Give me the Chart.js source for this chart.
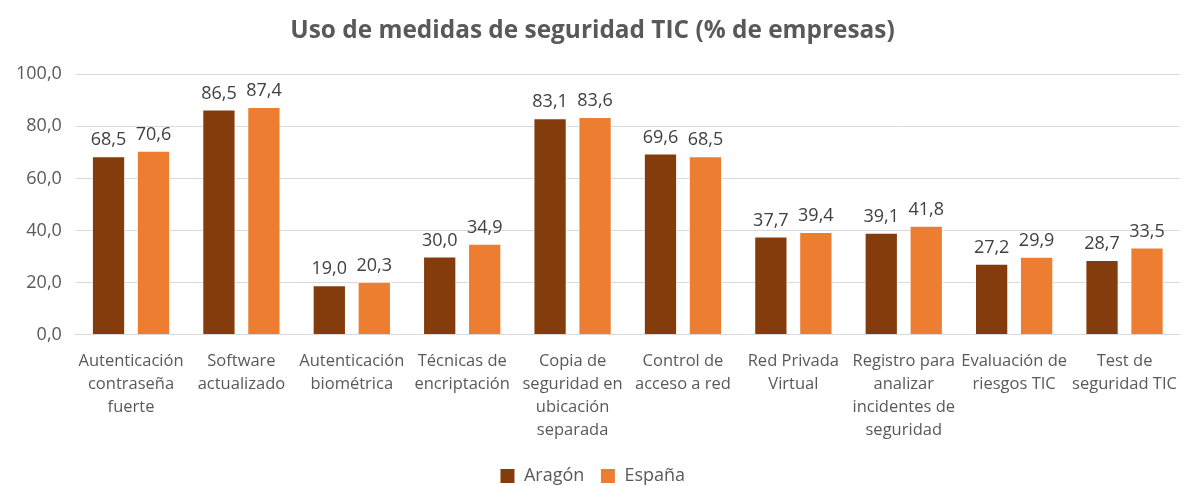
<!DOCTYPE html>
<html>
<head>
<meta charset="utf-8">
<script src="https://cdn.jsdelivr.net/npm/chart.js@4.4.1/dist/chart.umd.min.js"></script>
<style>
	html, body { margin: 0; padding: 0; background: #fff; }
	#wrap { width: 1184px; height: 486px; }
</style>
</head>
<body>
<div id="wrap"><canvas id="segChart" width="1184" height="486"></canvas></div>
<script>
// data
const categories = [
	["Autenticación", "contraseña", "fuerte"],
	["Software", "actualizado"],
	["Autenticación", "biométrica"],
	["Técnicas de", "encriptación"],
	["Copia de", "seguridad en", "ubicación", "separada"],
	["Control de", "acceso a red"],
	["Red Privada", "Virtual"],
	["Registro para", "analizar", "incidentes de", "seguridad"],
	["Evaluación de", "riesgos TIC"],
	["Test de", "seguridad TIC"]
];
const aragon = [68.5, 86.5, 19.0, 30.0, 83.1, 69.6, 37.7, 39.1, 27.2, 28.7];
const espana = [70.6, 87.4, 20.3, 34.9, 83.6, 68.5, 39.4, 41.8, 29.9, 33.5];
const seriesNames = ["Aragón", "España"];

const FONT = "'Open Sans', sans-serif";

//draws the value above each bar, with a comma as decimal sign
const valueLabels = {
	id: "valueLabels",
	afterDatasetsDraw(chart) {
		const ctx = chart.ctx;
		ctx.save();
		ctx.font = "18px " + FONT;
		ctx.fillStyle = "#404040";
		ctx.textAlign = "center";
		ctx.textBaseline = "bottom";
		chart.data.datasets.forEach((ds, i) => {
			chart.getDatasetMeta(i).data.forEach((bar, j) => {
				ctx.fillText(ds.data[j].toFixed(1).replace(".", ","), bar.x, bar.y - 7);
			});
		});
		ctx.restore();
	}
};

new Chart(document.getElementById("segChart").getContext("2d"), {
	type: "bar",
	data: {
		labels: categories,
		datasets: [
			{
				label: seriesNames[0],
				data: aragon,
				backgroundColor: "#843C0C",
				borderColor: "#ffffff",
				borderWidth: 1,
				categoryPercentage: 0.815,
				barPercentage: 0.74,
			},
			{
				label: seriesNames[1],
				data: espana,
				backgroundColor: "#ED7D31",
				borderColor: "#ffffff",
				borderWidth: 1,
				categoryPercentage: 0.815,
				barPercentage: 0.74,
			},
		],
	},
	options: {
		responsive: false,
		animation: false,
		layout: { padding: { left: 2, right: 1, top: 0, bottom: -9 } },
		plugins: {
			title: {
				display: true,
				text: "Uso de medidas de seguridad TIC (% de empresas)",
				color: "#595959",
				font: { family: FONT, size: 24.4, weight: "bold" },
				padding: { top: 16, bottom: 29 },
			},
			legend: {
				position: "bottom",
				labels: {
					color: "#595959",
					font: { family: FONT, size: 18 },
					boxWidth: 15,
					boxHeight: 15,
					padding: 2,
					useBorderRadius: false,
					//extra spaces keep the two legend items apart
					generateLabels: (chart) => {
						const items = Chart.defaults.plugins.legend.labels.generateLabels(chart);
						items.forEach((it, i) => {
							if (i < items.length - 1) it.text = it.text + "   ";
						});
						return items;
					},
				},
			},
			tooltip: { enabled: false },
		},
		scales: {
			y: {
				min: 0,
				max: 100,
				ticks: {
					stepSize: 20,
					color: "#595959",
					font: { family: FONT, size: 18 },
					padding: 14,
					callback: (v) => v.toFixed(1).replace(".", ","),
				},
				grid: { color: "#D9D9D9", lineWidth: 1, drawTicks: false },
				border: { display: false },
			},
			x: {
				ticks: {
					color: "#595959",
					font: { family: FONT, size: 16.5, lineHeight: 1.4 },
					maxRotation: 0,
					autoSkip: false,
					padding: 7,
				},
				grid: { display: false },
				border: { color: "#D9D9D9" },
				afterFit: (scale) => { scale.height += 16; },
			},
		},
	},
	plugins: [valueLabels],
});
</script>
</body>
</html>
